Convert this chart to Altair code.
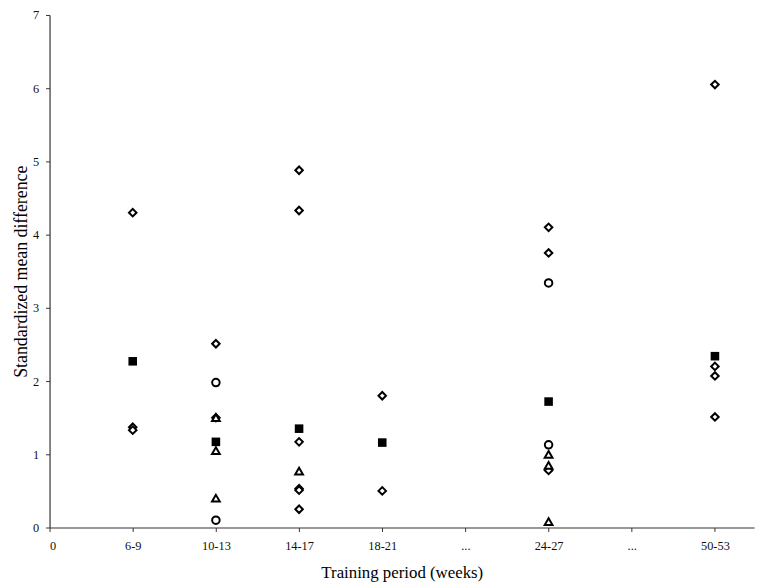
import altair as alt
import pandas as pd

categories = ["0", "6-9", "10-13", "14-17", "18-21", "...", "24-27", "...", "50-53"]

# (category index, value)
diamond_x = [1, 1, 1, 2, 2, 3, 3, 3, 3, 3, 3, 4, 4, 6, 6, 6, 8, 8, 8, 8]
diamond_y = [4.30, 1.37, 1.33, 2.51, 1.50, 4.88, 4.33, 1.17, 0.53, 0.51, 0.25,
             1.80, 0.50, 4.10, 3.75, 0.78, 6.05, 2.20, 2.07, 1.51]

square_x = [1, 2, 3, 4, 6, 8]
square_y = [2.27, 1.17, 1.35, 1.16, 1.72, 2.34]

circle_x = [2, 2, 6, 6]
circle_y = [1.98, 0.10, 3.34, 1.13]

triangle_x = [2, 2, 2, 3, 6, 6, 6]
triangle_y = [1.50, 1.05, 0.40, 0.77, 1.00, 0.85, 0.08]

def frame(xs, ys):
    return pd.DataFrame({"pos": xs, "value": ys})

label_expr = "[" + ",".join("'%s'" % c for c in categories) + "][datum.value]"

x_enc = alt.X("pos:Q",
              scale=alt.Scale(domain=[0, 8.47], nice=False, zero=False),
              axis=alt.Axis(values=list(range(len(categories))), labelExpr=label_expr,
                            title="Training period (weeks)", grid=False,
                            tickSize=4, labelPadding=8, titlePadding=13))
y_enc = alt.Y("value:Q",
              scale=alt.Scale(domain=[0, 7], nice=False),
              axis=alt.Axis(values=list(range(8)), format="d",
                            title="Standardized mean difference", grid=False,
                            tickSize=4, labelPadding=7, titlePadding=2))

def layer(xs, ys, shape, filled, size):
    return alt.Chart(frame(xs, ys)).mark_point(
        shape=shape, filled=filled, size=size,
        color="black", stroke="black", strokeWidth=2 if not filled else 0,
        fill="black" if filled else "white", opacity=1,
    ).encode(x=x_enc, y=y_enc)

chart = alt.layer(
    layer(diamond_x, diamond_y, "diamond", False, 58),
    layer(circle_x, circle_y, "circle", False, 58),
    layer(triangle_x, triangle_y, "triangle-up", False, 62),
    layer(square_x, square_y, "square", True, 75),
).properties(
    width=712, height=518,
    autosize=alt.AutoSizeParams(type="none"),
    padding={"left": 42, "top": 4, "right": 3, "bottom": 52},
).configure_view(stroke=None).configure_axis(
    domainColor="#333333", tickColor="#333333", domainWidth=1.2,
    labelFont="Liberation Sans Narrow", labelFontSize=12.5, labelColor="#111111",
    titleFont="Liberation Serif", titleFontSize=17, titleFontWeight="normal",
    titleColor="black",
).configure_axisY(titleFontSize=18)

chart.save("out.html", embed_options={"renderer": "svg", "actions": False})
